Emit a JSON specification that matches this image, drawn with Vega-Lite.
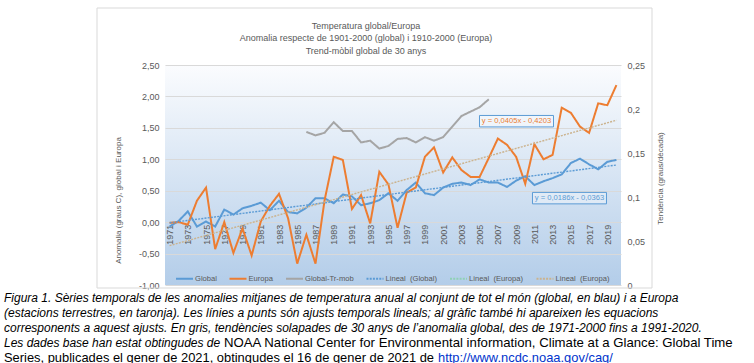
{
  "$schema": "https://vega.github.io/schema/vega-lite/v6.json",
  "width": 456,
  "height": 220,
  "autosize": {"type": "none"},
  "padding": {"left": 165, "top": 65, "right": 133, "bottom": 78},
  "background": "white",
  "config": {
    "font": "Liberation Sans",
    "view": {
      "stroke": null,
      "fill": {"gradient": "linear", "x1": 0, "y1": 0, "x2": 0, "y2": 1,
        "stops": [{"offset": 0, "color": "#fbfcfe"}, {"offset": 1, "color": "#b3cde9"}]}
    }
  },
  "title": {
    "text": ["Temperatura global/Europa", "Anomalia respecte de 1901-2000 (global) i 1910-2000 (Europa)", "Trend-mòbil global de 30 anys"],
    "fontSize": 9, "fontWeight": "normal", "color": "#595959",
    "anchor": "middle", "frame": "group", "dx": -27, "lineHeight": 12.5, "offset": -48
  },
  "datasets": {
    "anom": [
      {"year": 1971, "serie": "Global", "trend": "Lineal (Global)", "v": -0.07},
      {"year": 1972, "serie": "Global", "trend": "Lineal (Global)", "v": 0.02},
      {"year": 1973, "serie": "Global", "trend": "Lineal (Global)", "v": 0.17},
      {"year": 1974, "serie": "Global", "trend": "Lineal (Global)", "v": -0.07},
      {"year": 1975, "serie": "Global", "trend": "Lineal (Global)", "v": 0.01},
      {"year": 1976, "serie": "Global", "trend": "Lineal (Global)", "v": -0.07},
      {"year": 1977, "serie": "Global", "trend": "Lineal (Global)", "v": 0.20},
      {"year": 1978, "serie": "Global", "trend": "Lineal (Global)", "v": 0.12},
      {"year": 1979, "serie": "Global", "trend": "Lineal (Global)", "v": 0.22},
      {"year": 1980, "serie": "Global", "trend": "Lineal (Global)", "v": 0.26},
      {"year": 1981, "serie": "Global", "trend": "Lineal (Global)", "v": 0.31},
      {"year": 1982, "serie": "Global", "trend": "Lineal (Global)", "v": 0.19},
      {"year": 1983, "serie": "Global", "trend": "Lineal (Global)", "v": 0.34},
      {"year": 1984, "serie": "Global", "trend": "Lineal (Global)", "v": 0.16},
      {"year": 1985, "serie": "Global", "trend": "Lineal (Global)", "v": 0.14},
      {"year": 1986, "serie": "Global", "trend": "Lineal (Global)", "v": 0.23},
      {"year": 1987, "serie": "Global", "trend": "Lineal (Global)", "v": 0.38},
      {"year": 1988, "serie": "Global", "trend": "Lineal (Global)", "v": 0.38},
      {"year": 1989, "serie": "Global", "trend": "Lineal (Global)", "v": 0.30},
      {"year": 1990, "serie": "Global", "trend": "Lineal (Global)", "v": 0.44},
      {"year": 1991, "serie": "Global", "trend": "Lineal (Global)", "v": 0.41},
      {"year": 1992, "serie": "Global", "trend": "Lineal (Global)", "v": 0.27},
      {"year": 1993, "serie": "Global", "trend": "Lineal (Global)", "v": 0.30},
      {"year": 1994, "serie": "Global", "trend": "Lineal (Global)", "v": 0.35},
      {"year": 1995, "serie": "Global", "trend": "Lineal (Global)", "v": 0.46},
      {"year": 1996, "serie": "Global", "trend": "Lineal (Global)", "v": 0.34},
      {"year": 1997, "serie": "Global", "trend": "Lineal (Global)", "v": 0.51},
      {"year": 1998, "serie": "Global", "trend": "Lineal (Global)", "v": 0.63},
      {"year": 1999, "serie": "Global", "trend": "Lineal (Global)", "v": 0.46},
      {"year": 2000, "serie": "Global", "trend": "Lineal (Global)", "v": 0.43},
      {"year": 2001, "serie": "Global", "trend": "Lineal (Global)", "v": 0.55},
      {"year": 2002, "serie": "Global", "trend": "Lineal (Global)", "v": 0.61},
      {"year": 2003, "serie": "Global", "trend": "Lineal (Global)", "v": 0.63},
      {"year": 2004, "serie": "Global", "trend": "Lineal (Global)", "v": 0.59},
      {"year": 2005, "serie": "Global", "trend": "Lineal (Global)", "v": 0.68},
      {"year": 2006, "serie": "Global", "trend": "Lineal (Global)", "v": 0.63},
      {"year": 2007, "serie": "Global", "trend": "Lineal (Global)", "v": 0.63},
      {"year": 2008, "serie": "Global", "trend": "Lineal (Global)", "v": 0.56},
      {"year": 2009, "serie": "Global", "trend": "Lineal (Global)", "v": 0.66},
      {"year": 2010, "serie": "Global", "trend": "Lineal (Global)", "v": 0.73},
      {"year": 2011, "serie": "Global", "trend": "Lineal (Global)", "v": 0.59},
      {"year": 2012, "serie": "Global", "trend": "Lineal (Global)", "v": 0.65},
      {"year": 2013, "serie": "Global", "trend": "Lineal (Global)", "v": 0.70},
      {"year": 2014, "serie": "Global", "trend": "Lineal (Global)", "v": 0.76},
      {"year": 2015, "serie": "Global", "trend": "Lineal (Global)", "v": 0.94},
      {"year": 2016, "serie": "Global", "trend": "Lineal (Global)", "v": 1.01},
      {"year": 2017, "serie": "Global", "trend": "Lineal (Global)", "v": 0.92},
      {"year": 2018, "serie": "Global", "trend": "Lineal (Global)", "v": 0.84},
      {"year": 2019, "serie": "Global", "trend": "Lineal (Global)", "v": 0.96},
      {"year": 2020, "serie": "Global", "trend": "Lineal (Global)", "v": 0.99},
      {"year": 1971, "serie": "Europa", "trend": "Lineal (Europa)", "v": -0.01},
      {"year": 1972, "serie": "Europa", "trend": "Lineal (Europa)", "v": 0.00},
      {"year": 1973, "serie": "Europa", "trend": "Lineal (Europa)", "v": -0.04},
      {"year": 1974, "serie": "Europa", "trend": "Lineal (Europa)", "v": 0.34},
      {"year": 1975, "serie": "Europa", "trend": "Lineal (Europa)", "v": 0.55},
      {"year": 1976, "serie": "Europa", "trend": "Lineal (Europa)", "v": -0.43},
      {"year": 1977, "serie": "Europa", "trend": "Lineal (Europa)", "v": 0.00},
      {"year": 1978, "serie": "Europa", "trend": "Lineal (Europa)", "v": -0.49},
      {"year": 1979, "serie": "Europa", "trend": "Lineal (Europa)", "v": -0.10},
      {"year": 1980, "serie": "Europa", "trend": "Lineal (Europa)", "v": -0.53},
      {"year": 1981, "serie": "Europa", "trend": "Lineal (Europa)", "v": 0.01},
      {"year": 1982, "serie": "Europa", "trend": "Lineal (Europa)", "v": 0.26},
      {"year": 1983, "serie": "Europa", "trend": "Lineal (Europa)", "v": 0.45},
      {"year": 1984, "serie": "Europa", "trend": "Lineal (Europa)", "v": 0.06},
      {"year": 1985, "serie": "Europa", "trend": "Lineal (Europa)", "v": -0.66},
      {"year": 1986, "serie": "Europa", "trend": "Lineal (Europa)", "v": -0.20},
      {"year": 1987, "serie": "Europa", "trend": "Lineal (Europa)", "v": -0.66},
      {"year": 1988, "serie": "Europa", "trend": "Lineal (Europa)", "v": 0.35},
      {"year": 1989, "serie": "Europa", "trend": "Lineal (Europa)", "v": 1.04},
      {"year": 1990, "serie": "Europa", "trend": "Lineal (Europa)", "v": 0.99},
      {"year": 1991, "serie": "Europa", "trend": "Lineal (Europa)", "v": 0.21},
      {"year": 1992, "serie": "Europa", "trend": "Lineal (Europa)", "v": 0.43},
      {"year": 1993, "serie": "Europa", "trend": "Lineal (Europa)", "v": -0.02},
      {"year": 1994, "serie": "Europa", "trend": "Lineal (Europa)", "v": 0.80},
      {"year": 1995, "serie": "Europa", "trend": "Lineal (Europa)", "v": 0.60},
      {"year": 1996, "serie": "Europa", "trend": "Lineal (Europa)", "v": -0.09},
      {"year": 1997, "serie": "Europa", "trend": "Lineal (Europa)", "v": 0.47},
      {"year": 1998, "serie": "Europa", "trend": "Lineal (Europa)", "v": 0.55},
      {"year": 1999, "serie": "Europa", "trend": "Lineal (Europa)", "v": 1.04},
      {"year": 2000, "serie": "Europa", "trend": "Lineal (Europa)", "v": 1.19},
      {"year": 2001, "serie": "Europa", "trend": "Lineal (Europa)", "v": 0.79},
      {"year": 2002, "serie": "Europa", "trend": "Lineal (Europa)", "v": 1.03},
      {"year": 2003, "serie": "Europa", "trend": "Lineal (Europa)", "v": 0.83},
      {"year": 2004, "serie": "Europa", "trend": "Lineal (Europa)", "v": 0.72},
      {"year": 2005, "serie": "Europa", "trend": "Lineal (Europa)", "v": 0.72},
      {"year": 2006, "serie": "Europa", "trend": "Lineal (Europa)", "v": 1.02},
      {"year": 2007, "serie": "Europa", "trend": "Lineal (Europa)", "v": 1.33},
      {"year": 2008, "serie": "Europa", "trend": "Lineal (Europa)", "v": 1.23},
      {"year": 2009, "serie": "Europa", "trend": "Lineal (Europa)", "v": 1.04},
      {"year": 2010, "serie": "Europa", "trend": "Lineal (Europa)", "v": 0.61},
      {"year": 2011, "serie": "Europa", "trend": "Lineal (Europa)", "v": 1.24},
      {"year": 2012, "serie": "Europa", "trend": "Lineal (Europa)", "v": 1.00},
      {"year": 2013, "serie": "Europa", "trend": "Lineal (Europa)", "v": 1.07},
      {"year": 2014, "serie": "Europa", "trend": "Lineal (Europa)", "v": 1.82},
      {"year": 2015, "serie": "Europa", "trend": "Lineal (Europa)", "v": 1.74},
      {"year": 2016, "serie": "Europa", "trend": "Lineal (Europa)", "v": 1.52},
      {"year": 2017, "serie": "Europa", "trend": "Lineal (Europa)", "v": 1.42},
      {"year": 2018, "serie": "Europa", "trend": "Lineal (Europa)", "v": 1.89},
      {"year": 2019, "serie": "Europa", "trend": "Lineal (Europa)", "v": 1.86},
      {"year": 2020, "serie": "Europa", "trend": "Lineal (Europa)", "v": 2.18}
    ],
    "mob": [
      {"year": 1986, "serie": "Global-Tr-mob", "r": 0.174},
      {"year": 1987, "serie": "Global-Tr-mob", "r": 0.170},
      {"year": 1988, "serie": "Global-Tr-mob", "r": 0.173},
      {"year": 1989, "serie": "Global-Tr-mob", "r": 0.185},
      {"year": 1990, "serie": "Global-Tr-mob", "r": 0.175},
      {"year": 1991, "serie": "Global-Tr-mob", "r": 0.175},
      {"year": 1992, "serie": "Global-Tr-mob", "r": 0.162},
      {"year": 1993, "serie": "Global-Tr-mob", "r": 0.164},
      {"year": 1994, "serie": "Global-Tr-mob", "r": 0.155},
      {"year": 1995, "serie": "Global-Tr-mob", "r": 0.158},
      {"year": 1996, "serie": "Global-Tr-mob", "r": 0.166},
      {"year": 1997, "serie": "Global-Tr-mob", "r": 0.167},
      {"year": 1998, "serie": "Global-Tr-mob", "r": 0.162},
      {"year": 1999, "serie": "Global-Tr-mob", "r": 0.168},
      {"year": 2000, "serie": "Global-Tr-mob", "r": 0.164},
      {"year": 2001, "serie": "Global-Tr-mob", "r": 0.168},
      {"year": 2002, "serie": "Global-Tr-mob", "r": 0.180},
      {"year": 2003, "serie": "Global-Tr-mob", "r": 0.192},
      {"year": 2004, "serie": "Global-Tr-mob", "r": 0.197},
      {"year": 2005, "serie": "Global-Tr-mob", "r": 0.202},
      {"year": 2006, "serie": "Global-Tr-mob", "r": 0.211}
    ],
    "eq": [
      {"year": 2009.04, "v": 1.606, "serie": "Europa", "text": "y = 0,0405x - 0,4203"},
      {"year": 2014.85, "v": 0.382, "serie": "Global", "text": "y = 0,0186x - 0,0363"}
    ]
  },
  "layer": [
    {
      "layer": [
        {
          "data": {"values": [{}]},
          "mark": {"type": "rect", "fill": null, "stroke": "#d9d9d9", "strokeWidth": 1},
          "encoding": {"x": {"value": -68}, "x2": {"value": 487}, "y": {"value": -57}, "y2": {"value": 223}}
        },
        {
          "data": {"name": "anom"},
          "mark": {"type": "line", "strokeWidth": 2},
          "encoding": {
            "x": {"field": "year", "type": "quantitative",
              "scale": {"domain": [1970.5, 2020.5], "nice": false, "zero": false},
              "axis": {"title": null, "values": [1971,1973,1975,1977,1979,1981,1983,1985,1987,1989,1991,1993,1995,1997,1999,2001,2003,2005,2007,2009,2011,2013,2015,2017,2019],
                "format": "d", "labelAngle": 270, "labelFontSize": 9, "labelColor": "#595959",
                "ticks": false, "domain": false, "grid": false, "labelPadding": 2,
                "labelFlush": false, "labelOverlap": false, "offset": -62.86}},
            "y": {"field": "v", "type": "quantitative",
              "scale": {"domain": [-1, 2.5], "nice": false, "zero": false},
              "axis": {"values": [-1,-0.5,0,0.5,1,1.5,2,2.5],
                "labelExpr": "(datum.value < 0 ? '-' : '') + replace(format(abs(datum.value), '.2f'), '.', ',')",
                "labelFontSize": 9, "labelColor": "#595959", "ticks": false, "domain": false, "labelOverlap": false,
                "grid": true, "gridColor": "#d9d9d9", "labelPadding": 6,
                "title": "Anomalia (graus C), global i Europa", "titleFontSize": 8, "titleFontWeight": "normal",
                "titleColor": "#595959", "titleX": -47, "titleY": 135, "titleBaseline": "middle", "titleAngle": 270, "titleAlign": "center"}},
            "color": {"field": "serie", "type": "nominal",
              "scale": {"domain": ["Global", "Europa", "Global-Tr-mob", "Lineal (Global)", "Lineal (Europa) [a]", "Lineal (Europa)"],
                "range": ["#5b9bd5", "#ed7d31", "#a5a5a5", "#5b9bd5", "#8fd1b4", "#cbb38e"]},
              "legend": {"title": null, "orient": "none", "legendX": 10, "legendY": 204, "direction": "horizontal", "columns": 6,
                "symbolType": "stroke", "symbolSize": 289, "symbolStrokeWidth": 2, "labelFontSize": 7.6, "labelColor": "#595959",
                "labelOffset": 1, "columnPadding": 8.5, "padding": 0,
                "labelExpr": "replace(replace(datum.label, ' [a]', ''), ' (', '\u00a0 (')"}},
            "strokeDash": {"field": "serie", "type": "nominal",
              "scale": {"domain": ["Global", "Europa", "Global-Tr-mob", "Lineal (Global)", "Lineal (Europa) [a]", "Lineal (Europa)"],
                "range": [[1, 0], [1, 0], [1, 0], [2, 1.2], [2, 1.2], [2, 1.2]]},
              "legend": {"title": null, "orient": "none", "legendX": 10, "legendY": 204, "direction": "horizontal", "columns": 6,
                "symbolType": "stroke", "symbolSize": 289, "symbolStrokeWidth": 2, "labelFontSize": 7.6, "labelColor": "#595959",
                "labelOffset": 1, "columnPadding": 8.5, "padding": 0,
                "labelExpr": "replace(replace(datum.label, ' [a]', ''), ' (', '\u00a0 (')"}}
          }
        },
        {
          "data": {"name": "anom"},
          "transform": [{"regression": "v", "on": "year", "groupby": ["trend"]}],
          "mark": {"type": "line", "strokeWidth": 1.4},
          "encoding": {
            "x": {"field": "year", "type": "quantitative",
              "axis": {"title": null, "values": [1971,1973,1975,1977,1979,1981,1983,1985,1987,1989,1991,1993,1995,1997,1999,2001,2003,2005,2007,2009,2011,2013,2015,2017,2019],
                "format": "d", "labelAngle": 270, "labelFontSize": 9, "labelColor": "#595959",
                "ticks": false, "domain": false, "grid": false, "labelPadding": 2,
                "labelFlush": false, "labelOverlap": false, "offset": -62.86}},
            "y": {"field": "v", "type": "quantitative",
              "axis": {"values": [-1,-0.5,0,0.5,1,1.5,2,2.5],
                "labelExpr": "(datum.value < 0 ? '-' : '') + replace(format(abs(datum.value), '.2f'), '.', ',')",
                "labelFontSize": 9, "labelColor": "#595959", "ticks": false, "domain": false, "labelOverlap": false,
                "grid": true, "gridColor": "#d9d9d9", "labelPadding": 6,
                "title": "Anomalia (graus C), global i Europa", "titleFontSize": 8, "titleFontWeight": "normal",
                "titleColor": "#595959", "titleX": -47, "titleY": 135, "titleBaseline": "middle", "titleAngle": 270, "titleAlign": "center"}},
            "color": {"field": "trend", "type": "nominal"},
            "strokeDash": {"field": "trend", "type": "nominal"}
          }
        },
        {
          "data": {"name": "eq"},
          "mark": {"type": "point", "shape": "M-1,-0.155L1,-0.155L1,0.155L-1,0.155Z", "size": 5476, "filled": true,
            "fill": "#ffffff", "fillOpacity": 0.35, "stroke": "#5b9bd5", "strokeWidth": 1, "opacity": 1},
          "encoding": {
            "x": {"field": "year", "type": "quantitative",
              "axis": {"title": null, "values": [1971,1973,1975,1977,1979,1981,1983,1985,1987,1989,1991,1993,1995,1997,1999,2001,2003,2005,2007,2009,2011,2013,2015,2017,2019],
                "format": "d", "labelAngle": 270, "labelFontSize": 9, "labelColor": "#595959",
                "ticks": false, "domain": false, "grid": false, "labelPadding": 2,
                "labelFlush": false, "labelOverlap": false, "offset": -62.86}},
            "y": {"field": "v", "type": "quantitative",
              "axis": {"values": [-1,-0.5,0,0.5,1,1.5,2,2.5],
                "labelExpr": "(datum.value < 0 ? '-' : '') + replace(format(abs(datum.value), '.2f'), '.', ',')",
                "labelFontSize": 9, "labelColor": "#595959", "ticks": false, "domain": false, "labelOverlap": false,
                "grid": true, "gridColor": "#d9d9d9", "labelPadding": 6,
                "title": "Anomalia (graus C), global i Europa", "titleFontSize": 8, "titleFontWeight": "normal",
                "titleColor": "#595959", "titleX": -47, "titleY": 135, "titleBaseline": "middle", "titleAngle": 270, "titleAlign": "center"}}
          }
        },
        {
          "data": {"name": "eq"},
          "mark": {"type": "text", "fontSize": 7.6, "align": "center", "baseline": "middle"},
          "encoding": {
            "x": {"field": "year", "type": "quantitative",
              "axis": {"title": null, "values": [1971,1973,1975,1977,1979,1981,1983,1985,1987,1989,1991,1993,1995,1997,1999,2001,2003,2005,2007,2009,2011,2013,2015,2017,2019],
                "format": "d", "labelAngle": 270, "labelFontSize": 9, "labelColor": "#595959",
                "ticks": false, "domain": false, "grid": false, "labelPadding": 2,
                "labelFlush": false, "labelOverlap": false, "offset": -62.86}},
            "y": {"field": "v", "type": "quantitative",
              "axis": {"values": [-1,-0.5,0,0.5,1,1.5,2,2.5],
                "labelExpr": "(datum.value < 0 ? '-' : '') + replace(format(abs(datum.value), '.2f'), '.', ',')",
                "labelFontSize": 9, "labelColor": "#595959", "ticks": false, "domain": false, "labelOverlap": false,
                "grid": true, "gridColor": "#d9d9d9", "labelPadding": 6,
                "title": "Anomalia (graus C), global i Europa", "titleFontSize": 8, "titleFontWeight": "normal",
                "titleColor": "#595959", "titleX": -47, "titleY": 135, "titleBaseline": "middle", "titleAngle": 270, "titleAlign": "center"}},
            "text": {"field": "text"},
            "color": {"condition": {"test": "datum.serie === 'Europa'", "value": "#ed7d31"}, "value": "#5b9bd5"}
          }
        },
        {
          "data": {"values": [{}]},
          "mark": {"type": "text", "fontSize": 12, "fontStyle": "italic", "align": "left", "baseline": "middle", "lineHeight": 14.9, "color": "#000000",
            "text": ["Figura 1. Sèries temporals de les anomalies mitjanes de temperatura anual al conjunt de tot el món (global, en blau) i a Europa",
              "(estacions terrestres, en taronja). Les línies a punts són ajusts temporals lineals; al gràfic també hi apareixen les equacions",
              "corresponents a aquest ajusts. En gris, tendències solapades de 30 anys de l’anomalia global, des de 1971-2000 fins a 1991-2020.",
              "Les dades base han estat obtingudes de"]},
          "encoding": {"x": {"value": -161}, "y": {"value": 233}}
        },
        {
          "data": {"values": [{}]},
          "mark": {"type": "text", "fontSize": 13.2, "align": "left", "baseline": "middle", "color": "#000000",
            "text": "NOAA National Center for Environmental information, Climate at a Glance: Global Time"},
          "encoding": {"x": {"value": 59}, "y": {"value": 278}}
        },
        {
          "data": {"values": [{}]},
          "mark": {"type": "text", "fontSize": 12.9, "align": "left", "baseline": "middle", "color": "#000000",
            "text": "Series, publicades el gener de 2021, obtingudes el 16 de gener de 2021 de"},
          "encoding": {"x": {"value": -161}, "y": {"value": 292.5}}
        },
        {
          "data": {"values": [{}]},
          "mark": {"type": "text", "fontSize": 12.9, "align": "left", "baseline": "middle", "color": "#0033cc",
            "text": "http://www.ncdc.noaa.gov/cag/"},
          "encoding": {"x": {"value": 273}, "y": {"value": 292.5}}
        }
      ]
    },
    {
      "data": {"name": "mob"},
      "mark": {"type": "line", "strokeWidth": 2},
      "encoding": {
        "x": {"field": "year", "type": "quantitative",
          "axis": {"title": null, "values": [1971,1973,1975,1977,1979,1981,1983,1985,1987,1989,1991,1993,1995,1997,1999,2001,2003,2005,2007,2009,2011,2013,2015,2017,2019],
            "format": "d", "labelAngle": 270, "labelFontSize": 9, "labelColor": "#595959",
            "ticks": false, "domain": false, "grid": false, "labelPadding": 2,
            "labelFlush": false, "labelOverlap": false, "offset": -62.86}},
        "y": {"field": "r", "type": "quantitative",
          "scale": {"domain": [0, 0.25], "nice": false, "zero": false},
          "axis": {"orient": "right", "values": [0, 0.05, 0.1, 0.15, 0.2, 0.25],
            "labelExpr": "replace(format(datum.value, '.2~f'), '.', ',')",
            "labelFontSize": 9, "labelColor": "#595959", "ticks": false, "domain": false, "grid": false, "labelPadding": 6, "labelOverlap": false,
            "title": "Tendència (graus/dècada)", "titleFontSize": 8, "titleFontWeight": "normal", "titleColor": "#595959",
            "titleX": 39, "titleY": 113, "titleBaseline": "middle", "titleAngle": 270, "titleAlign": "center"}},
        "color": {"field": "serie", "type": "nominal"},
        "strokeDash": {"field": "serie", "type": "nominal"}
      }
    }
  ],
  "resolve": {"scale": {"y": "independent"}}
}
